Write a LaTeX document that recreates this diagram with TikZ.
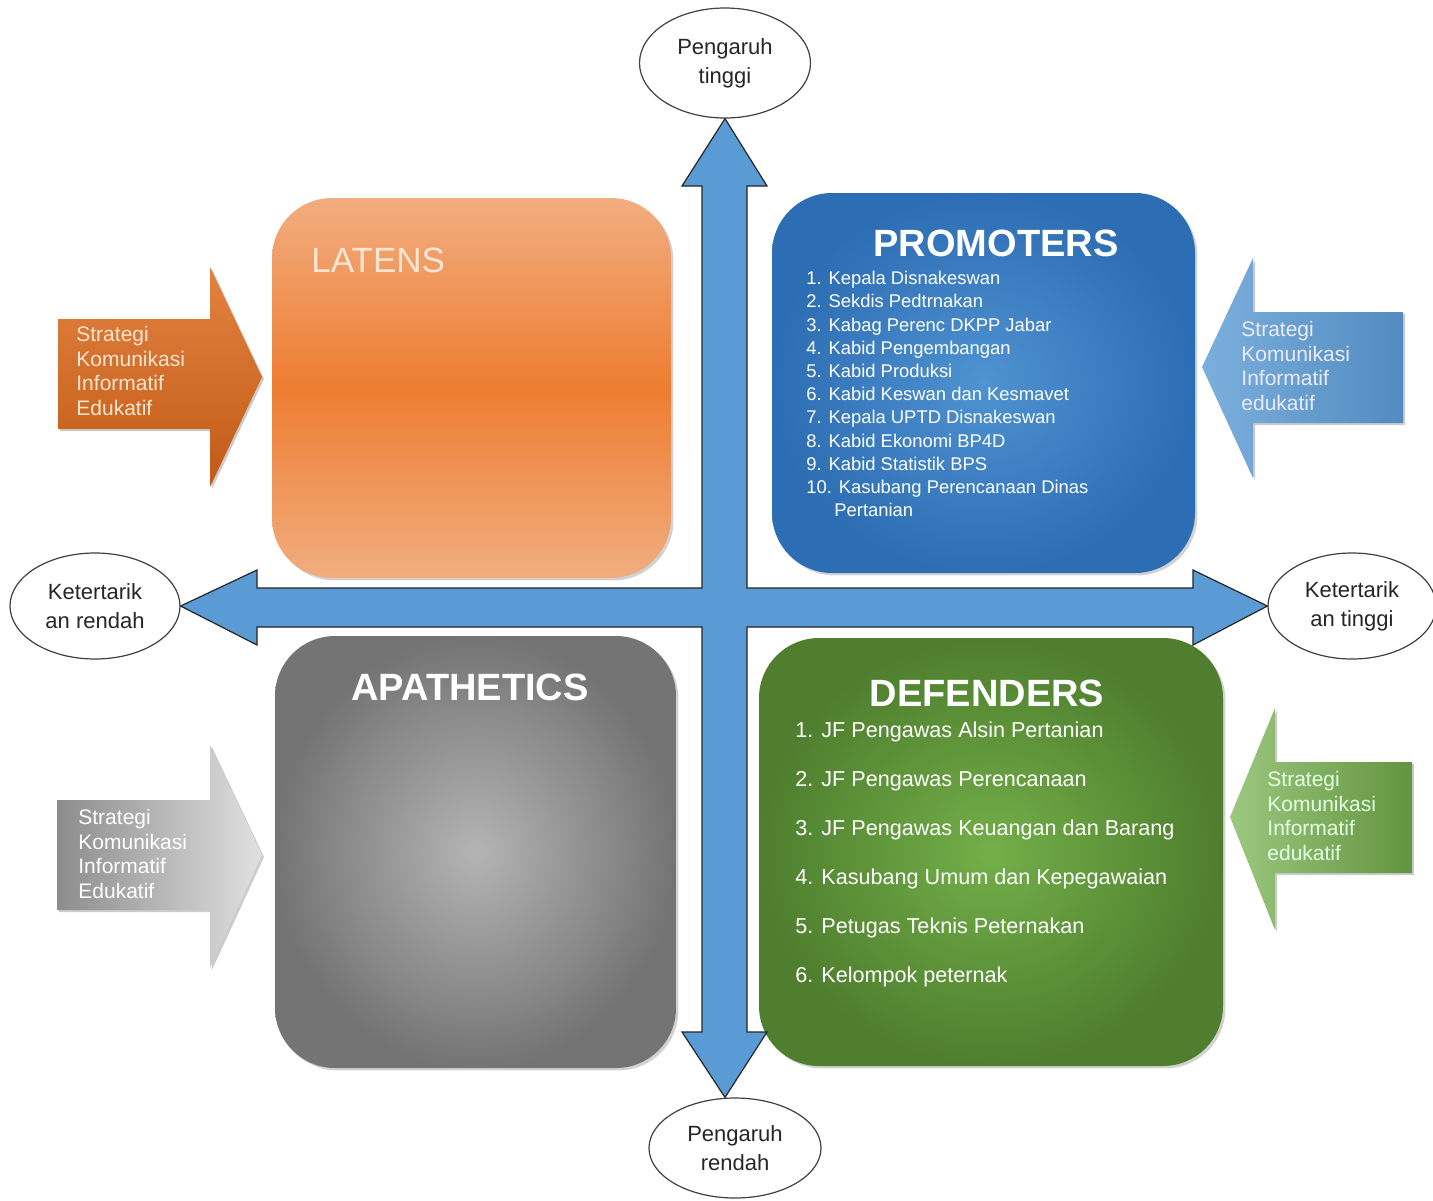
\documentclass[tikz,border=0pt]{standalone}
\usepackage{fontspec}
\setmainfont{Liberation Sans}
\usetikzlibrary{shapes.geometric,shadows}

\definecolor{crossblue}{HTML}{5B9BD5}
\definecolor{latenslight}{HTML}{F2AD80}
\definecolor{latensmid}{HTML}{ED7D31}
\definecolor{promoin}{HTML}{4F93D2}
\definecolor{promoout}{HTML}{2D6DB3}
\definecolor{apain}{HTML}{B4B4B4}
\definecolor{apaout}{HTML}{747474}
\definecolor{defin}{HTML}{73AF49}
\definecolor{defout}{HTML}{4E7E2E}
\definecolor{cream}{HTML}{FCE6D2}
\definecolor{stratlight}{HTML}{E3823F}
\definecolor{stratdark}{HTML}{C25A17}

\begin{document}
\begin{tikzpicture}[x=0.5pt,y=-0.5pt]
    \tikzstyle{oval} = [ellipse, draw=black!75, line width=0.6pt, fill=white, inner sep=0pt, align=center, text=black!85, font=\fontsize{11}{14.5}\selectfont]
    \tikzstyle{quad} = [rectangle, rounded corners=30pt, inner sep=0pt, drop shadow={opacity=0.35, shadow xshift=1.2pt, shadow yshift=-1.2pt}]
    \tikzstyle{title} = [inner sep=0pt, text=white, font=\fontsize{19}{22}\selectfont\bfseries]
    \tikzstyle{list} = [anchor=north west, inner sep=0pt, align=left, text=white]
    \tikzstyle{strat} = [drop shadow={opacity=0.4, shadow xshift=1pt, shadow yshift=-1pt}]
    \tikzstyle{strattext} = [anchor=north west, inner sep=0pt, align=left, font=\fontsize{10.5}{12.3}\selectfont]
    \tikzstyle{cross} = [draw=black!85, line width=0.6pt, fill=crossblue, line join=miter]

    \useasboundingbox (0,0) rectangle (1433,1200);
    \fill[white] (0,0) rectangle (1433,1200);

    % Four quadrants
    \node [quad, top color=latenslight, bottom color=latenslight, middle color=latensmid, minimum width=199.5pt, minimum height=190pt] (latens) at (471.5,388) {};
    \node [quad, inner color=promoin, outer color=promoout, minimum width=211.5pt, minimum height=190pt] (promoters) at (983.5,383) {};
    \node [quad, inner color=apain, outer color=apaout, minimum width=200.5pt, minimum height=216pt] (apathetics) at (475.5,852) {};
    \node [quad, inner color=defin, outer color=defout, minimum width=232pt, minimum height=214pt] (defenders) at (991,852) {};

    % Titles
    \node [inner sep=0pt, anchor=west, text=cream, font=\fontsize{17.5}{20}\selectfont] (tlatens) at (311,260) {LATENS};
    \node [title] (tpromoters) at (996,243) {PROMOTERS};
    \node [title] (tapathetics) at (470,687) {APATHETICS};
    \node [title] (tdefenders) at (987,693) {DEFENDERS};

    % Lists
    \node [list, font=\fontsize{9.2}{11.6}\selectfont] (lpromoters) at (806,271) {1. Kepala Disnakeswan\\
        2. Sekdis Pedtrnakan\\
        3. Kabag Perenc DKPP Jabar\\
        4. Kabid Pengembangan\\
        5. Kabid Produksi\\
        6. Kabid Keswan dan Kesmavet\\
        7. Kepala UPTD Disnakeswan\\
        8. Kabid Ekonomi BP4D\\
        9. Kabid Statistik BPS\\
        10. Kasubang Perencanaan Dinas\\
        \hspace*{14pt}Pertanian};
    \node [list, font=\fontsize{10.8}{24.5}\selectfont] (ldefenders) at (795,721) {1. JF Pengawas Alsin Pertanian\\
        2. JF Pengawas Perencanaan\\
        3. JF Pengawas Keuangan dan Barang\\
        4. Kasubang Umum dan Kepegawaian\\
        5. Petugas Teknis Peternakan\\
        6. Kelompok peternak};

    % End ovals
    \node [oval, minimum width=85.5pt, minimum height=55pt] (ptinggi) at (725,63) {Pengaruh\\tinggi};
    \node [oval, minimum width=86pt, minimum height=50pt] (prendah) at (735,1148) {Pengaruh\\rendah};
    \node [oval, minimum width=85pt, minimum height=53pt] (ktrendah) at (95,606) {Ketertarik\\an rendah};
    \node [oval, minimum width=84pt, minimum height=53pt] (kttinggi) at (1352,606) {Ketertarik\\an tinggi};

    % Cross of arrows
    \draw [cross] (ptinggi.south) -- (767,186) -- (747,186) -- (747,588) -- (1193,588) -- (1193,570)
        -- (kttinggi.west) -- (1193,645) -- (1193,627) -- (747,627) -- (747,1032) -- (767,1032)
        -- (prendah.north -| ptinggi.south) -- (682,1032) -- (702,1032) -- (702,627) -- (257,627) -- (257,645)
        -- (ktrendah.east) -- (257,570) -- (257,588) -- (702,588) -- (702,186) -- (682,186) -- cycle;

    % Strategy arrows
    \path [strat, top color=stratlight, bottom color=stratdark] (58,319) -- (210,319) -- (210,267) -- (262,377) -- (210,487) -- (210,429) -- (58,429) -- cycle;
    \node [strattext, text=cream] (sorange) at (76,326) {Strategi\\Komunikasi\\Informatif\\Edukatif};

    \path [strat, left color=crossblue!80!white, right color=crossblue!90!black] (1403,312) -- (1253,312) -- (1253,258) -- (1202,367) -- (1253,478) -- (1253,423) -- (1403,423) -- cycle;
    \node [strattext, text=white!92!blue] (sblue) at (1241,321) {Strategi\\Komunikasi\\Informatif\\edukatif};

    \path [strat, left color=black!45, right color=black!12] (57,800) -- (210,800) -- (210,745) -- (262,855) -- (210,968) -- (210,910) -- (57,910) -- cycle;
    \node [strattext, text=white] (sgray) at (78,809) {Strategi\\Komunikasi\\Informatif\\Edukatif};

    \path [strat, left color=defin!70!white, right color=defin!85!black] (1412,762) -- (1275,762) -- (1275,708) -- (1230,817) -- (1275,930) -- (1275,873) -- (1412,873) -- cycle;
    \node [strattext, text=white!90!green] (sgreen) at (1267,771) {Strategi\\Komunikasi\\Informatif\\edukatif};
\end{tikzpicture}
\end{document}
